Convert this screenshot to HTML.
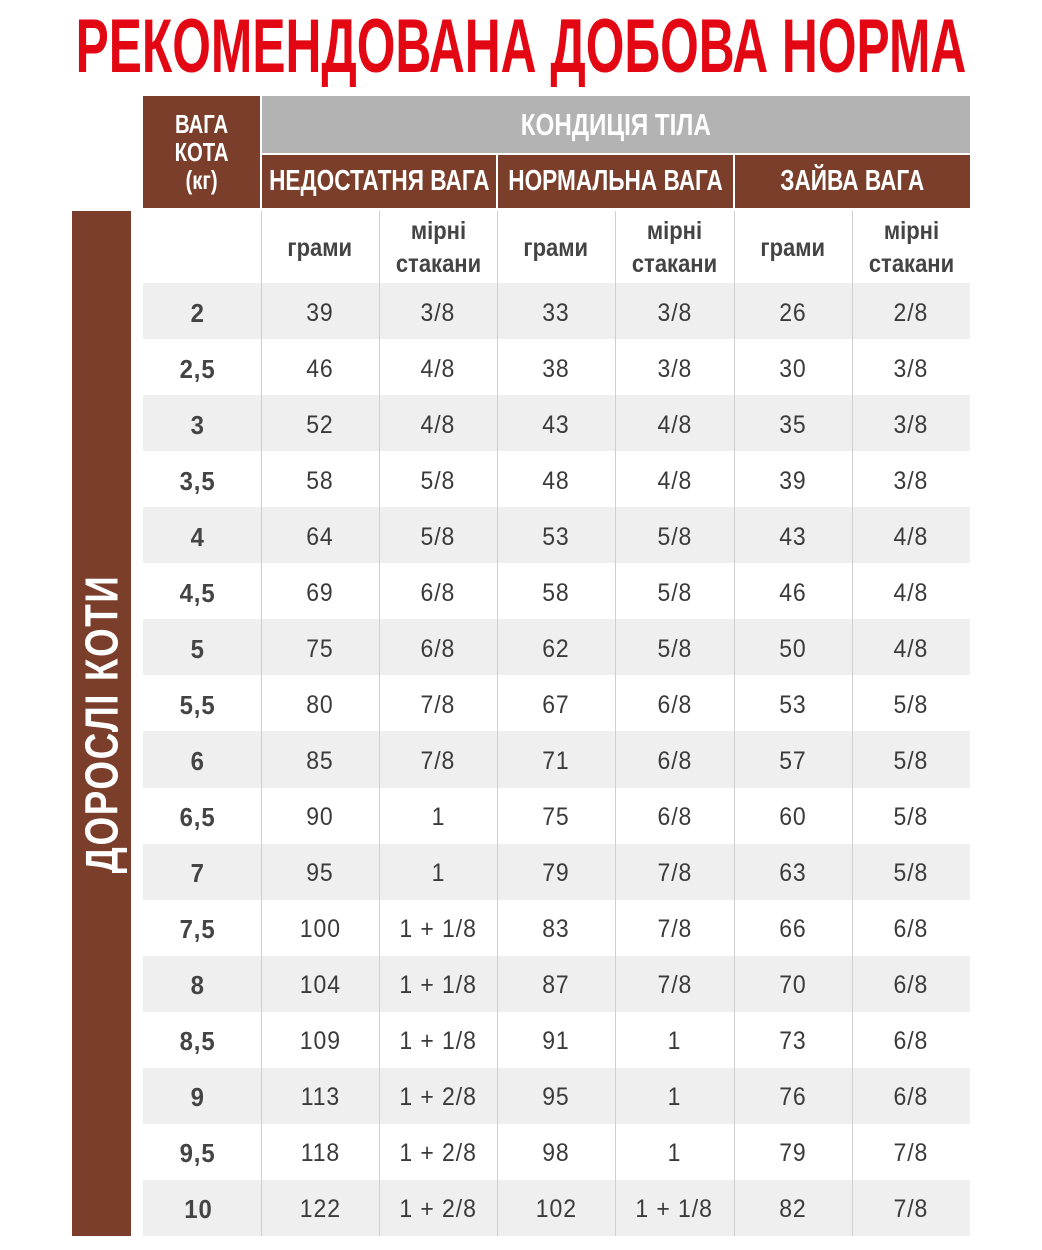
<!DOCTYPE html>
<html><head><meta charset="utf-8"><style>
body{margin:0;width:1042px;height:1250px;background:#fff;position:relative;overflow:hidden;font-family:"Liberation Sans",sans-serif}
.a{position:absolute;display:flex;align-items:center;justify-content:center;text-align:center}
.s{display:inline-block;white-space:nowrap}
.t{color:#e30613;font-weight:bold;font-size:76px;left:0;width:1042px;top:6px;height:80px}
.t .s{transform:scaleX(0.654)}
.br{background:#7a3e2b;color:#fff;font-weight:bold}
.gr{background:#b3b3b3;color:#fff;font-weight:bold}
.h .s{transform:scaleX(0.78)}
.c{color:#3a3a3a;font-size:25px}
.c .s{transform:scaleX(0.92);letter-spacing:1px}
.w{font-weight:bold;color:#444}
.sub{color:#444;font-weight:bold;font-size:25px;line-height:33px}
.sub .s{transform:scaleX(0.88)}
.vl{position:absolute;width:1px;background:#cfcfcf}
</style></head><body>
<div class="a t"><span class="s">РЕКОМЕНДОВАНА ДОБОВА НОРМА</span></div>
<div class="a br h" style="left:143px;top:96px;width:117px;height:112px;font-size:26px;line-height:28px"><span class="s">ВАГА<br>КОТА<br>(кг)</span></div>
<div class="a gr h" style="left:262px;top:96px;width:708px;height:57px;font-size:31px"><span class="s">КОНДИЦІЯ ТІЛА</span></div>
<div class="a br h" style="left:262px;top:155px;width:234px;height:53px;font-size:29px"><span class="s">НЕДОСТАТНЯ ВАГА</span></div>
<div class="a br h" style="left:498px;top:155px;width:235px;height:53px;font-size:29px"><span class="s">НОРМАЛЬНА ВАГА</span></div>
<div class="a br h" style="left:735px;top:155px;width:235px;height:53px;font-size:29px"><span class="s">ЗАЙВА ВАГА</span></div>
<div class="a br h" style="left:72px;top:211px;width:59px;height:1025px"><span class="s" style="transform:rotate(-90deg) scaleX(0.8);font-size:46px;letter-spacing:2px">ДОРОСЛІ КОТИ</span></div>
<div id="g"></div>
<script>
var cols=[143,261,379,497,615,734,852,970];
var data=[["2",39,"3/8",33,"3/8",26,"2/8"],["2,5",46,"4/8",38,"3/8",30,"3/8"],["3",52,"4/8",43,"4/8",35,"3/8"],["3,5",58,"5/8",48,"4/8",39,"3/8"],["4",64,"5/8",53,"5/8",43,"4/8"],["4,5",69,"6/8",58,"5/8",46,"4/8"],["5",75,"6/8",62,"5/8",50,"4/8"],["5,5",80,"7/8",67,"6/8",53,"5/8"],["6",85,"7/8",71,"6/8",57,"5/8"],["6,5",90,"1",75,"6/8",60,"5/8"],["7",95,"1",79,"7/8",63,"5/8"],["7,5",100,"1 + 1/8",83,"7/8",66,"6/8"],["8",104,"1 + 1/8",87,"7/8",70,"6/8"],["8,5",109,"1 + 1/8",91,"1",73,"6/8"],["9",113,"1 + 2/8",95,"1",76,"6/8"],["9,5",118,"1 + 2/8",98,"1",79,"7/8"],["10",122,"1 + 2/8",102,"1 + 1/8",82,"7/8"]];
var h="";
var sub=["","грами","мірні<br>стакани","грами","мірні<br>стакани","грами","мірні<br>стакани"];
for(var j=1;j<7;j++)h+='<div class="a sub" style="left:'+cols[j]+'px;top:212px;width:'+(cols[j+1]-cols[j])+'px;height:72px"><span class="s">'+sub[j]+'</span></div>';
var rh=(1236-283)/17;
for(var i=0;i<17;i++){var y=283+i*rh;
if(i%2==0)h+='<div style="position:absolute;left:143px;top:'+y+'px;width:827px;height:'+rh+'px;background:#efefef"></div>';
for(var j=0;j<7;j++){var x=cols[j],w=cols[j+1]-cols[j];
h+='<div class="a c'+(j==0?' w':'')+'" style="left:'+(j==0?x-4:x)+'px;top:'+(y+2)+'px;width:'+w+'px;height:'+rh+'px;'+(j==0?'font-size:26px':'')+'"><span class="s">'+data[i][j]+'</span></div>';}}
for(var j=1;j<7;j++)h+='<div class="vl" style="left:'+cols[j]+'px;top:211px;height:1025px"></div>';
document.getElementById("g").innerHTML=h;
</script>
</body></html>
